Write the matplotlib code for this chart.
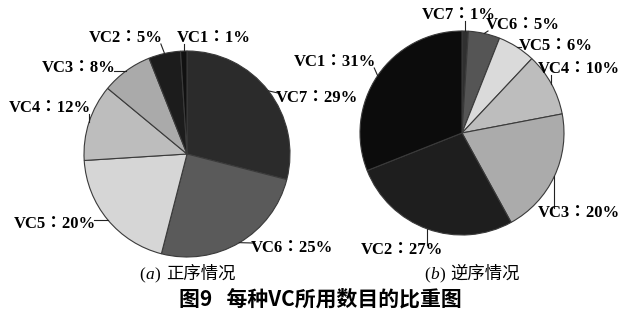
import matplotlib.pyplot as plt
import numpy as np

W, H = 623, 321

# data
labels = ['VC7', 'VC6', 'VC5', 'VC4', 'VC3', 'VC2', 'VC1']
share_a = [29, 25, 20, 12, 8, 5, 1]     # (a) 正序情况
share_b = [1, 5, 6, 10, 20, 27, 31]     # (b) 逆序情况
colors_a = ['#2b2b2b', '#5a5a5a', '#d6d6d6', '#bdbdbd', '#aaaaaa', '#1c1c1c', '#111111']
colors_b = ['#303030', '#555555', '#dadada', '#bdbdbd', '#ababab', '#1e1e1e', '#0c0c0c']

# label text positions (image pixels, left edge / vertical centre of text)
pos_a = [(276, 98), (251, 248), (14, 224), (9, 108), (42, 68), (89, 38), (177, 38)]
pos_b = [(422, 15), (486, 25), (519, 46), (538, 69), (538, 213), (361, 250), (294, 62)]

lab_font = dict(family=['Liberation Serif', 'Noto Sans CJK TC'], weight='bold', fontsize=12)

fig = plt.figure(figsize=(W / 100, H / 100), dpi=100)
ax = fig.add_axes([0, 0, 1, 1])


def Y(y):
    return H - y


leaders = []


def draw_pie(values, colors, center, radius, positions):
    wedges, _ = ax.pie(values, colors=colors, startangle=90, counterclock=False,
                       center=(center[0], Y(center[1])), radius=radius,
                       wedgeprops=dict(edgecolor='#3a3a3a', linewidth=0.8))
    for w, name, v, (tx, ty) in zip(wedges, labels, values, positions):
        txt = ax.text(tx, Y(ty), f'{name}：{v}%', ha='left', va='center', **lab_font)
        mid = np.deg2rad((w.theta1 + w.theta2) / 2)
        ex = center[0] + radius * np.cos(mid)
        ey = center[1] - radius * np.sin(mid)
        leaders.append((txt, ex, ey))


draw_pie(share_a, colors_a, (187, 154), 103, pos_a)
draw_pie(share_b, colors_b, (462, 133), 102, pos_b)

ax.set_xlim(0, W)
ax.set_ylim(0, H)
ax.set_aspect('auto')
ax.axis('off')

# leader lines from the wedge edge to the nearest side of its label
renderer = fig.canvas.get_renderer()
for txt, ex, ey in leaders:
    bb = txt.get_window_extent(renderer=renderer)
    x0, x1 = bb.x0, bb.x1
    y0, y1 = H - bb.y1, H - bb.y0
    lx = min(max(ex, x0 + 2), x1 - 2)
    ly = min(max(ey, y0 + 3), y1 - 2)
    ax.plot([lx, ex], [Y(ly), Y(ey)], color='#222222', lw=0.8)


# sub captions: "(a)" with italic letter, then the Chinese text
cap_font = dict(family=['Liberation Serif', 'Noto Sans CJK SC'], fontsize=12.5)


def caption(x, y, letter, text):
    parts = [('(', 'normal', 0), (letter, 'italic', 0), (')', 'normal', 0), (text, 'normal', 5)]
    for s, st, gap in parts:
        t = ax.text(x + gap, Y(y), s, ha='left', va='center', style=st, **cap_font)
        x = t.get_window_extent(renderer=renderer).x1 + gap + 0.5


caption(139, 275, 'a', '正序情况')
caption(424, 275, 'b', '逆序情况')

ax.text(320, Y(299), '图9   每种VC所用数目的比重图', ha='center', va='center',
        family=['Noto Sans CJK SC', 'DejaVu Sans'], weight='bold', fontsize=15)

fig.savefig('out.png', dpi=100, facecolor='white')
